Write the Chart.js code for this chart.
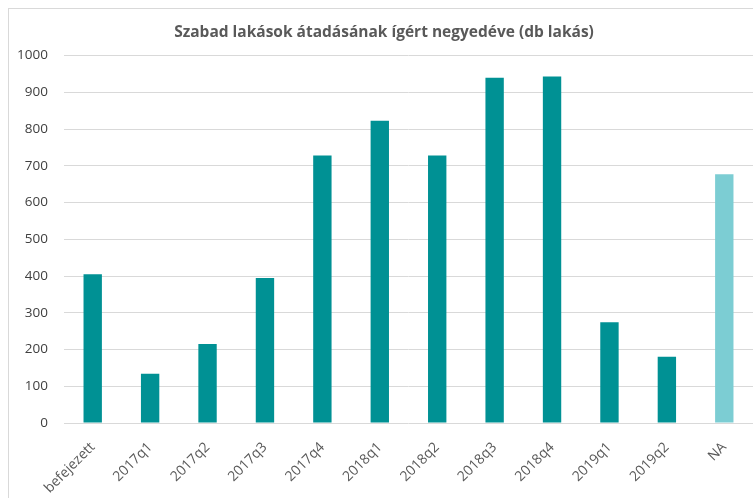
<!DOCTYPE html>
<html>
<head>
<meta charset="utf-8">
<script src="https://cdn.jsdelivr.net/npm/chart.js@4/dist/chart.umd.min.js"></script>
<style>
  html, body { margin: 0; padding: 0; background: #fff; }
  #wrap {
    position: absolute; left: 8px; top: 8px;
    width: 744px; height: 490px;
    border-left: 1px solid #d9d9d9; border-top: 1px solid #d9d9d9;
  }
</style>
</head>
<body>
<div id="wrap"><canvas id="chart"></canvas></div>
<script>
const categories = ['befejezett', '2017q1', '2017q2', '2017q3', '2017q4', '2018q1',
  '2018q2', '2018q3', '2018q4', '2019q1', '2019q2', 'NA'];
const flats = [405, 134, 215, 395, 728, 823, 728, 940, 943, 274, 180, 677];
const yTicks = [0, 100, 200, 300, 400, 500, 600, 700, 800, 900, 1000];

const mainColor = '#009194';
const naColor = '#7ccdd3';

new Chart(document.getElementById('chart'), {
  type: 'bar',
  data: {
    labels: categories,
    datasets: [{
      data: flats,
      backgroundColor: categories.map(c => c === 'NA' ? naColor : mainColor),
      barPercentage: 0.32,
      categoryPercentage: 1
    }]
  },
  options: {
    responsive: true,
    maintainAspectRatio: false,
    animation: false,
    layout: { padding: { left: 6, right: 0, top: 6, bottom: 0 } },
    plugins: {
      legend: { display: false },
      tooltip: { enabled: false },
      title: {
        display: true,
        text: 'Szabad lakások átadásának ígért negyedéve (db lakás)',
        color: '#595959',
        font: { family: 'Open Sans', size: 15.5, weight: 'bold' },
        padding: { top: 8, bottom: 14 }
      }
    },
    scales: {
      x: {
        grid: { display: false },
        border: { display: false },
        afterFit: axis => { axis.height = 76; },
        ticks: {
          color: '#595959',
          font: { family: 'Open Sans', size: 14 },
          maxRotation: 45, minRotation: 45,
          padding: 8
        }
      },
      y: {
        min: 0, max: 1000,
        afterBuildTicks: axis => { axis.ticks = yTicks.map(v => ({ value: v })); },
        afterFit: axis => { axis.width = 49; },
        grid: { color: '#d9d9d9', drawTicks: false },
        border: { display: false },
        ticks: {
          color: '#404040',
          font: { family: 'Open Sans', size: 13.5 },
          padding: 16,
          callback: v => String(v)
        }
      }
    }
  }
});
</script>
</body>
</html>
